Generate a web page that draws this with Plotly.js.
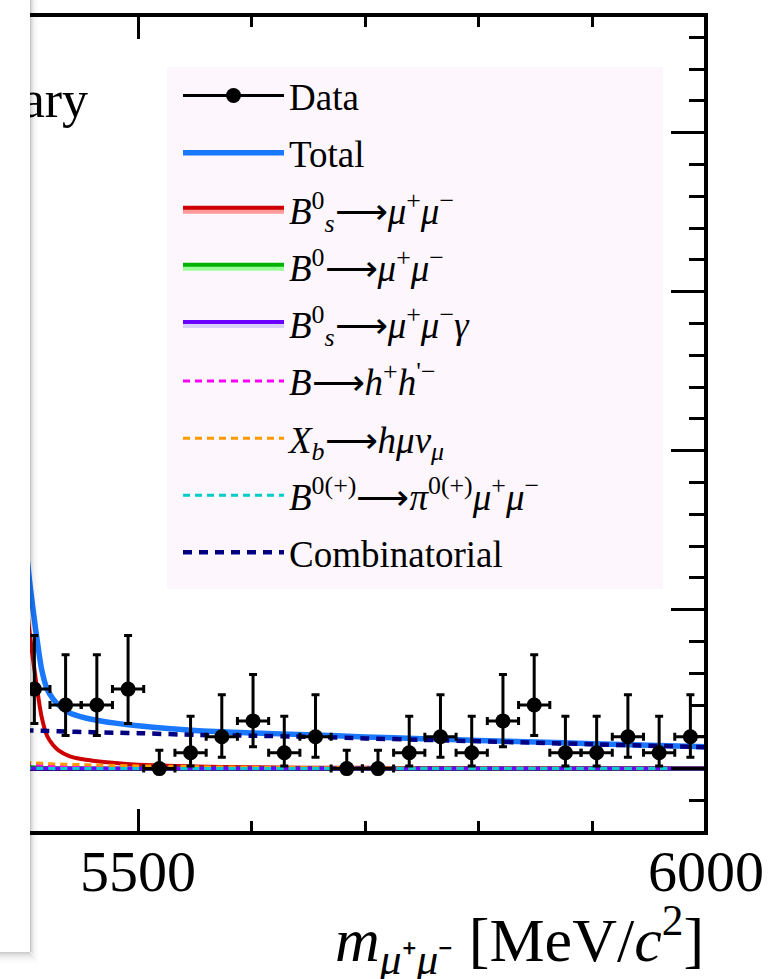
<!DOCTYPE html>
<html><head><meta charset="utf-8">
<script src="https://cdn.plot.ly/plotly-3.0.1.min.js"></script>
<style>html,body{margin:0;padding:0;background:#fff;}#chart{width:779px;height:979px;}</style>
</head><body><div id="chart"></div>
<script>
// ---- data ----
const binCenters = [5408.75, 5436.25, 5463.75, 5491.25, 5518.75, 5546.25, 5573.75, 5601.25, 5628.75, 5656.25, 5683.75, 5711.25, 5738.75, 5766.25, 5793.75, 5821.25, 5848.75, 5876.25, 5903.75, 5931.25, 5958.75, 5986.25];
const counts     = [5, 4, 4, 5, 0, 1, 2, 3, 1, 2, 0, 0, 1, 2, 1, 3, 4, 1, 1, 2, 1, 2];
const errUp      = [3.38, 3.16, 3.16, 3.38, 1.15, 2.30, 2.64, 2.92, 2.30, 2.64, 1.15, 1.15, 2.30, 2.64, 2.30, 2.92, 3.16, 2.30, 2.30, 2.64, 2.30, 2.64];
const errDown    = [2.16, 1.91, 1.91, 2.16, 0, 0.83, 1.29, 1.63, 0.83, 1.29, 0, 0, 0.83, 1.29, 0.83, 1.63, 1.91, 0.83, 0.83, 1.29, 0.83, 1.29];
const binHalfWidth = 13.75;

const curveMass     = [5400, 5405, 5410, 5415, 5420, 5425, 5430, 5440, 5450, 5460, 5480, 5500, 5550, 5600, 5650, 5700, 5750, 5800, 5850, 5900, 5950, 6000];
const totalFit      = [14.7, 11.5, 8.7, 6.3, 5.0, 4.4, 4.0, 3.5, 3.26, 3.09, 2.86, 2.69, 2.39, 2.24, 2.13, 1.99, 1.88, 1.77, 1.68, 1.56, 1.47, 1.37];
const bsMuMu        = [11.4, 8.3, 5.6, 3.3, 2.05, 1.5, 1.15, 0.77, 0.6, 0.5, 0.35, 0.25, 0.13, 0.08, 0.06, 0.05, 0.04, 0.03, 0.03, 0.02, 0.02, 0.02];
const bdMuMu        = [0.15, 0.10, 0.07, 0.05, 0.04, 0.03, 0.03, 0.02, 0.02, 0.01, 0.01, 0.01, 0, 0, 0, 0, 0, 0, 0, 0, 0, 0];
const bsMuMuGamma   = [0.01, 0.01, 0, 0, 0, 0, 0, 0, 0, 0, 0, 0, 0, 0, 0, 0, 0, 0, 0, 0, 0, 0];
const bToHH         = [0.35, 0.30, 0.26, 0.22, 0.18, 0.15, 0.13, 0.10, 0.08, 0.06, 0.04, 0.03, 0.02, 0.01, 0.01, 0, 0, 0, 0, 0, 0, 0];
const xbToHMuNu     = [0.42, 0.38, 0.36, 0.34, 0.32, 0.30, 0.29, 0.27, 0.25, 0.23, 0.20, 0.17, 0.12, 0.08, 0.06, 0.04, 0.03, 0.02, 0.02, 0.01, 0.01, 0.01];
const bToPiMuMu     = [0.02, 0.02, 0.01, 0.01, 0.01, 0.01, 0.01, 0, 0, 0, 0, 0, 0, 0, 0, 0, 0, 0, 0, 0, 0, 0];
const combinatorial = [2.42, 2.40, 2.39, 2.38, 2.37, 2.36, 2.35, 2.33, 2.31, 2.29, 2.26, 2.23, 2.12, 2.07, 2.00, 1.90, 1.81, 1.72, 1.63, 1.53, 1.44, 1.34];

const legendNames = {
  data: 'Data',
  total: 'Total',
  bs: '<i>B</i><sup>0</sup><sub><i>s</i></sub>⟶<i>μ</i><sup>+</sup><i>μ</i><sup>−</sup>',
  bd: '<i>B</i><sup>0</sup>⟶<i>μ</i><sup>+</sup><i>μ</i><sup>−</sup>',
  bsg: '<i>B</i><sup>0</sup><sub><i>s</i></sub>⟶<i>μ</i><sup>+</sup><i>μ</i><sup>−</sup><i>γ</i>',
  hh: '<i>B</i>⟶<i>h</i><sup>+</sup><i>h</i><sup>\'−</sup>',
  xb: '<i>X</i><sub><i>b</i></sub>⟶<i>hμν</i><sub><i>μ</i></sub>',
  pi: '<i>B</i><sup>0(+)</sup>⟶<i>π</i><sup>0(+)</sup><i>μ</i><sup>+</sup><i>μ</i><sup>−</sup>',
  comb: 'Combinatorial'
};

// ---- traces ----
const SERIF = 'Liberation Serif, Times New Roman, serif';
function curve(y, name, group, color, width, dash, extra) {
  return Object.assign({
    type: 'scatter', mode: 'lines', x: curveMass, y: y, name: name,
    legendgroup: group, line: {color: color, width: width, dash: dash || 'solid', shape: 'spline', smoothing: 0.6},
    hoverinfo: 'skip'
  }, extra || {});
}
function bandBase(y, group) {
  return {type: 'scatter', mode: 'lines', x: curveMass, y: y, legendgroup: group, showlegend: false,
    line: {width: 0, shape: 'spline', smoothing: 0.6}, hoverinfo: 'skip'};
}

const traces = [
  {type: 'scatter', mode: 'lines+markers', x: [null], y: [null], name: legendNames.data, legendgroup: 'data',
   line: {color: 'black', width: 3}, marker: {color: 'black', size: 15}},
  curve(totalFit, legendNames.total, 'total', '#1a78ff', 5.5),
  bandBase(bsMuMu, 'bs'),
  curve(bsMuMu, legendNames.bs, 'bs', '#cc0000', 4, 'solid', {fill: 'tonexty', fillcolor: '#ff9999'}),
  bandBase(bdMuMu, 'bd'),
  curve(bdMuMu, legendNames.bd, 'bd', '#00b300', 4, 'solid', {fill: 'tonexty', fillcolor: '#99ff99'}),
  bandBase(bsMuMuGamma, 'bsg'),
  curve(bsMuMuGamma, legendNames.bsg, 'bsg', '#6a00ff', 4, 'solid', {fill: 'tonexty', fillcolor: '#d9d0f7'}),
  curve(bToHH, legendNames.hh, 'hh', '#ff00ff', 3, '7px,5px'),
  curve(xbToHMuNu, legendNames.xb, 'xb', '#ff9900', 3, '7px,5px'),
  curve(bToPiMuMu, legendNames.pi, 'pi', '#00cccc', 3, '7px,5px'),
  curve(combinatorial, legendNames.comb, 'comb', '#000080', 4.5, '9px,7px'),
  {type: 'scatter', mode: 'markers', x: binCenters, y: counts, name: 'Data', legendgroup: 'data', showlegend: false,
   zorder: 10, marker: {color: 'black', size: 15},
   error_y: {type: 'data', symmetric: false, array: errUp, arrayminus: errDown, color: 'black', thickness: 3, width: 4},
   error_x: {type: 'constant', value: binHalfWidth, color: 'black', thickness: 3, width: 4},
   hoverinfo: 'skip'},
  {type: 'scatter', mode: 'text', xaxis: 'x2', yaxis: 'y', x: [5456], y: [41.8], text: ['LHCb Preliminary'],
   textposition: 'middle left', textfont: {family: SERIF, size: 52, color: 'black'}, showlegend: false, hoverinfo: 'skip'}
];

// ---- layout ----
const W = 706, TOP = 15, BOT = 833;
const px = x => x / W;
const py = y => (BOT - y) / (BOT - TOP);

const shapes = [
  // legend background
  {type: 'rect', xref: 'paper', yref: 'paper', x0: px(167), x1: px(663), y0: py(589), y1: py(67),
   fillcolor: '#fdf7fd', line: {width: 0}, layer: 'below'},
  // plot frame
  {type: 'rect', xref: 'paper', yref: 'paper', x0: 0, x1: 1, y0: 0, y1: 1,
   fillcolor: 'rgba(0,0,0,0)', line: {color: 'black', width: 4}, layer: 'above'},
  // overlapping window panel at the left edge
  {type: 'rect', xref: 'paper', yref: 'paper', x0: -0.05, x1: px(30), y0: py(952), y1: 1.1,
   fillcolor: '#ffffff', line: {width: 0}, layer: 'above'}
];
const sideAlpha = [0.22, 0.15, 0.10, 0.07, 0.045, 0.03, 0.018, 0.01];
sideAlpha.forEach((a, i) => shapes.push({type: 'rect', xref: 'paper', yref: 'paper', x0: px(30 + i), x1: px(31 + i),
  y0: py(952 + i), y1: 1.1, fillcolor: 'rgba(0,0,0,' + a + ')', line: {width: 0}, layer: 'above'}));
const botAlpha = [0.2, 0.16, 0.13, 0.1, 0.08, 0.06, 0.045, 0.035, 0.025, 0.017, 0.01, 0.005];
botAlpha.forEach((a, i) => shapes.push({type: 'rect', xref: 'paper', yref: 'paper', x0: -0.05, x1: px(30 + Math.min(i, 7)),
  y0: py(953 + i), y1: py(952 + i), fillcolor: 'rgba(0,0,0,' + a + ')', line: {width: 0}, layer: 'above'}));

const xRange = [5378.5, 6000];
const layout = {
  width: 779, height: 979,
  margin: {l: 0, r: 73, t: TOP, b: 979 - BOT, pad: 0},
  paper_bgcolor: '#ffffff', plot_bgcolor: '#ffffff',
  showlegend: true,
  xaxis: {
    range: xRange, showgrid: false, zeroline: false, showticklabels: false,
    showline: true, linecolor: 'black', linewidth: 4, mirror: 'ticks',
    ticks: 'inside', ticklen: 24, tickwidth: 3, tickcolor: 'black', tick0: 5000, dtick: 500,
    minor: {ticks: 'inside', dtick: 100, tick0: 5000, ticklen: 12, tickwidth: 3, tickcolor: 'black', showgrid: false}
  },
  xaxis2: {
    overlaying: 'x', side: 'bottom', anchor: 'y', range: xRange,
    showgrid: false, zeroline: false, showline: false, ticks: '', tick0: 5000, dtick: 500,
    tickfont: {family: SERIF, size: 58, color: 'black'}, ticklabelstandoff: -1
  },
  yaxis: {
    range: [-4.05, 47.4], side: 'right', showgrid: false, showticklabels: false,
    zeroline: true, zerolinecolor: 'black', zerolinewidth: 4,
    showline: true, linecolor: 'black', linewidth: 4, mirror: true,
    ticks: 'inside', ticklen: 35, tickwidth: 3, tickcolor: 'black', tick0: 0, dtick: 10,
    minor: {ticks: 'inside', dtick: 2, ticklen: 17, tickwidth: 3, tickcolor: 'black', showgrid: false}
  },
  legend: {
    x: px(178), y: py(65), xanchor: 'left', yanchor: 'top',
    bgcolor: 'rgba(0,0,0,0)', borderwidth: 0,
    font: {family: SERIF, size: 37, color: 'black'},
    itemwidth: 101, traceorder: 'grouped', tracegroupgap: 6, itemclick: false, itemdoubleclick: false
  },
  annotations: [{
    xref: 'paper', yref: 'paper', x: 1, y: py(940), xanchor: 'right', yanchor: 'middle', showarrow: false,
    text: '<i>m</i><sub><i>μ</i>⁺<i>μ</i>⁻</sub> [MeV/<i>c</i><sup>2</sup>]',
    font: {family: SERIF, size: 62, color: 'black'}
  }],
  shapes: shapes
};

Plotly.newPlot('chart', traces, layout, {displayModeBar: false, staticPlot: true});
</script>
</body></html>
